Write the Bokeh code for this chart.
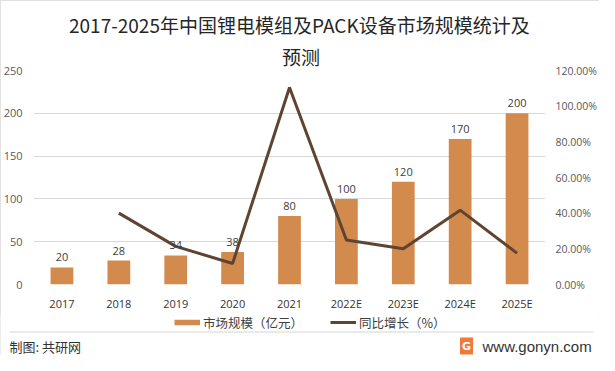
from bokeh.plotting import figure
from bokeh.layouts import column
from bokeh.models import (ColumnDataSource, Range1d, LinearAxis, FixedTicker, Title,
                          NumeralTickFormatter, LabelSet, Label, Legend, LegendItem, Arrow)
from bokeh.core.properties import value
from bokeh.embed import file_html
from bokeh.resources import INLINE

# ---------------- data ----------------
years = ["2017", "2018", "2019", "2020", "2021", "2022E", "2023E", "2024E", "2025E"]
market = [20, 28, 34, 38, 80, 100, 120, 170, 200]          # 市场规模（亿元）
growth_years = ["2018", "2019", "2020", "2021", "2022E", "2023E", "2024E", "2025E"]
growth = [0.40, 0.214, 0.118, 1.105, 0.25, 0.20, 0.417, 0.176]  # 同比增长
left_ticks = [0, 50, 100, 150, 200, 250]
right_ticks = [0.0, 0.2, 0.4, 0.6, 0.8, 1.0, 1.2]
title_lines = ["2017-2025年中国锂电模组及PACK设备市场规模统计及", "预测"]
legend_labels = ["市场规模（亿元）", "同比增长（%）"]
source_text = "制图: 共研网"
site_text = "www.gonyn.com"

# ---------------- layout (reference pixels) ----------------
W = 599
OX, OY = 8, 8                 # shift of reference pixels to canvas pixels
FL, FR, FT, FB = 40, 554, 78, 294   # plot frame edges
MAIN_END = 321                # chart strip ends
H_MAIN = MAIN_END - OY
H_FOOT = 355 - H_MAIN

BAR = "#D38B4D"
LINE = "#5F4431"
CJK = "Noto Sans CJK SC"
NUM = "Open Sans"

# ---------- main chart (with title) ----------
XMIN, XMAX = -0.5, len(years) - 0.5
p = figure(width=W, height=H_MAIN, output_backend="svg", toolbar_location=None,
           x_range=Range1d(XMIN, XMAX), y_range=Range1d(0, 250), frame_align=False,
           min_border_left=FL - OX, min_border_right=W - (FR - OX),
           min_border_top=FT - OY, min_border_bottom=MAIN_END - FB)
p.outline_line_color = None
p.extra_y_ranges = {"pct": Range1d(0, 1.2)}

# title: second line is nearest to the frame, so it is added first
p.add_layout(Title(text=title_lines[1], align="left", offset=(307.5 - FL) - 19,
                   vertical_align="middle", standoff=0, text_font=CJK,
                   text_font_size="19px", text_font_style="normal",
                   text_color="#262626"), "above")
p.add_layout(Title(text=title_lines[0], align="left", offset=(307.5 - FL) - 232,
                   vertical_align="middle", standoff=6, text_font=CJK,
                   text_font_size="19px", text_font_style="normal",
                   text_color="#262626"), "above")

xs = list(range(len(years)))
src = ColumnDataSource(dict(x=xs, v=market, lab=[str(v) for v in market]))
bars = p.vbar(x="x", top="v", width=0.4, source=src, fill_color=BAR, line_color=None)

gx = [years.index(y) for y in growth_years]
gsrc = ColumnDataSource(dict(x=gx, g=growth))
ln = p.line(x="x", y="g", source=gsrc, y_range_name="pct", line_color=LINE, line_width=3)

p.add_layout(LabelSet(x="x", y="v", text="lab", source=src, text_align="center",
                      text_baseline="bottom", y_offset=6, text_font=value(NUM),
                      text_font_size="11px", text_color="#404040"))

p.xaxis.ticker = FixedTicker(ticks=xs)
p.xaxis.major_label_overrides = {i: y for i, y in enumerate(years)}
p.yaxis.ticker = FixedTicker(ticks=left_ticks)
ra = LinearAxis(y_range_name="pct", ticker=FixedTicker(ticks=right_ticks),
                formatter=NumeralTickFormatter(format="0.00%"))
p.add_layout(ra, "right")
for ax in [p.xaxis[0], p.yaxis[0], ra]:
    ax.axis_line_color = None
    ax.major_tick_line_color = None
    ax.minor_tick_line_color = None
    ax.major_tick_out = 0
    ax.major_tick_in = 0
    ax.major_label_text_font = NUM
    ax.major_label_text_font_size = "11px"
    ax.major_label_text_color = "#595959"
p.xaxis.major_label_text_color = "#333333"
p.xaxis.major_label_standoff = 11
p.yaxis[0].major_label_standoff = 11
ra.major_label_text_font_size = "10.5px"
ra.major_label_standoff = 10
p.xgrid.grid_line_color = None
p.ygrid.ticker = FixedTicker(ticks=left_ticks)
p.ygrid.grid_line_color = "#d9d9d9"

# ---------- footer strip (legend + source) ----------
pf = figure(width=W, height=H_FOOT, output_backend="svg", toolbar_location=None,
            x_range=Range1d(0, W), y_range=Range1d(H_FOOT, 0),
            x_axis_location=None, y_axis_location=None, min_border=0, frame_align=False)
pf.outline_line_color = None
pf.grid.visible = False
fy = lambda ry: ry - MAIN_END
nan = float("nan")
bar_key = pf.line(x=[nan], y=[nan], line_color=BAR, line_width=5.5)
line_key = pf.line(x=[nan], y=[nan], line_color=LINE, line_width=3)
LEG_H = 18
leg = Legend(items=[LegendItem(label=legend_labels[0], renderers=[bar_key]),
                    LegendItem(label=legend_labels[1], renderers=[line_key])],
             orientation="horizontal",
             location=(182 - OX, H_FOOT - (fy(330.5) + LEG_H / 2)),
             glyph_width=26, glyph_height=LEG_H, label_height=LEG_H,
             label_standoff=3, spacing=27,
             padding=0, margin=0, border_line_alpha=0, background_fill_alpha=0,
             label_text_font=CJK, label_text_font_size="12.5px", label_text_color="#404040")
pf.add_layout(leg)
pf.add_layout(Arrow(end=None, x_start=17 - OX, y_start=fy(339.5), x_end=601 - OX, y_end=fy(339.5),
                    line_color="#d4d4d4", line_width=1))
pf.add_layout(Label(x=17 - OX, y=fy(353.5), text=source_text, text_align="left",
                    text_baseline="middle", text_font=CJK, text_font_size="13px",
                    text_color="#333333"))
pf.add_layout(Label(x=474 - OX, y=fy(353.5), text="G", text_align="center",
                    text_baseline="middle", text_font="DejaVu Sans", text_font_style="bold",
                    text_font_size="11px", text_color="white",
                    background_fill_color="#EF7A3A", padding=2))
pf.add_layout(Label(x=490 - OX, y=fy(353.5), text=site_text, text_align="left",
                    text_baseline="middle", text_font="Liberation Sans", text_font_size="15px",
                    text_color="#333333"))

layout = column(p, pf, spacing=0,
                styles={"outline": "1px solid #d9d9d9", "outline-offset": "-1px"})

open("out.html", "w").write(file_html(layout, INLINE))
